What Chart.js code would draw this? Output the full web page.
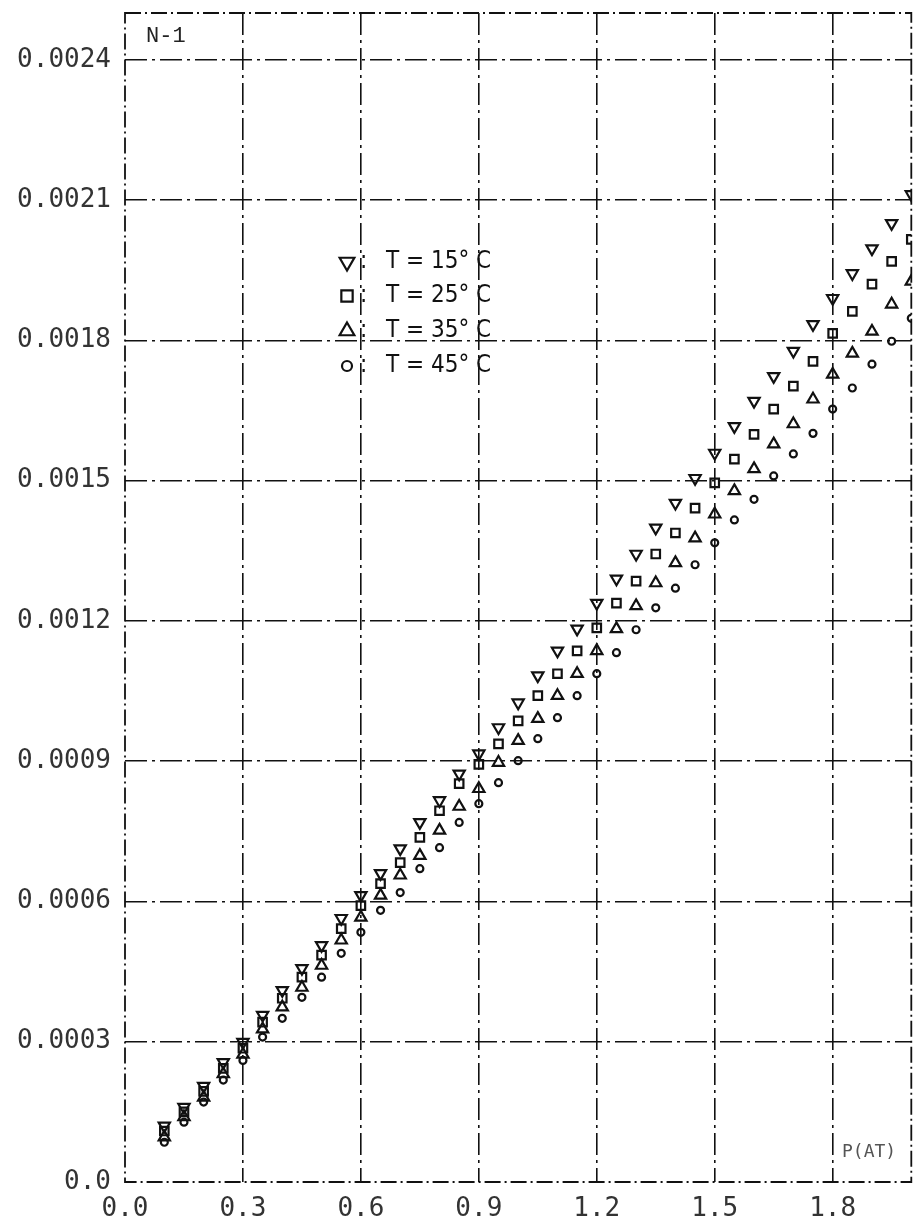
<!DOCTYPE html>
<html>
<head>
<meta charset="utf-8">
<title>N-1</title>
<script src="https://cdn.jsdelivr.net/npm/chart.js@4.4.1/dist/chart.umd.min.js"></script>
<style>
body{margin:0;background:#fff;}
#wrap{width:920px;height:1222px;position:relative;}
</style>
</head>
<body>
<div id="wrap"><canvas id="myChart"></canvas></div>
<script>
'use strict';
// pressure values on the x axis, same for every temperature
let pValues=[0.1,0.15,0.2,0.25,0.3,0.35,0.4,0.45,0.5,0.55,0.6,0.65,0.7,0.75,0.8,0.85,0.9,0.95,1.0,1.05,
1.1,1.15,1.2,1.25,1.3,1.35,1.4,1.45,1.5,1.55,1.6,1.65,1.7,1.75,1.8,1.85,1.9,1.95,2.0];

let t15=[0.000120,0.000160,0.000205,0.000256,0.000299,0.000357,0.000410,0.000457,0.000506,0.000564,
0.000613,0.000660,0.000713,0.000769,0.000816,0.000873,0.000916,0.000972,0.001025,0.001083,
0.001136,0.001183,0.001238,0.001290,0.001343,0.001399,0.001452,0.001505,0.001559,0.001616,
0.001670,0.001723,0.001777,0.001834,0.001890,0.001943,0.001996,0.002050,0.002112];

let t25=[0.000109,0.000150,0.000194,0.000243,0.000286,0.000342,0.000393,0.000438,0.000485,0.000542,
0.000591,0.000638,0.000683,0.000737,0.000794,0.000852,0.000893,0.000937,0.000986,0.001040,
0.001087,0.001136,0.001185,0.001238,0.001285,0.001343,0.001388,0.001441,0.001495,0.001546,
0.001599,0.001653,0.001702,0.001755,0.001815,0.001862,0.001920,0.001969,0.002016];

let t35=[0.000096,0.000139,0.000181,0.000231,0.000273,0.000327,0.000374,0.000416,0.000463,0.000517,
0.000566,0.000613,0.000656,0.000698,0.000752,0.000803,0.000841,0.000897,0.000944,0.000991,
0.001040,0.001087,0.001136,0.001183,0.001232,0.001281,0.001324,0.001377,0.001428,0.001478,
0.001525,0.001578,0.001621,0.001674,0.001727,0.001772,0.001819,0.001877,0.001926];

let t45=[0.000085,0.000128,0.000171,0.000218,0.000260,0.000310,0.000350,0.000395,0.000438,0.000489,
0.000534,0.000581,0.000619,0.000670,0.000715,0.000769,0.000809,0.000854,0.000901,0.000948,
0.000993,0.001040,0.001087,0.001132,0.001181,0.001228,0.001270,0.001320,0.001367,0.001416,
0.001460,0.001510,0.001557,0.001601,0.001653,0.001698,0.001749,0.001798,0.001847];

let seriesNames=['T = 15° C','T = 25° C','T = 35° C','T = 45° C'];
let xTicks=[0,0.3,0.6,0.9,1.2,1.5,1.8];
let xTickLabels=['0.0','0.3','0.6','0.9','1.2','1.5','1.8'];
let yTicks=[0,0.0003,0.0006,0.0009,0.0012,0.0015,0.0018,0.0021,0.0024];
let yTickLabels=['0.0','0.0003','0.0006','0.0009','0.0012','0.0015','0.0018','0.0021','0.0024'];

let markers=[
  {pointStyle:'triangle',rotation:180,radius:6.5,legendRadius:8.5},
  {pointStyle:'rect',rotation:0,radius:6,legendRadius:8},
  {pointStyle:'triangle',rotation:0,radius:6.5,legendRadius:8.5},
  {pointStyle:'circle',rotation:0,radius:3.5,legendRadius:5}
];
let allSeries=[t15,t25,t35,t45];

function makePoints(vals)
{
  let pts=[];
  for(let i=0;i<pValues.length;i++)
  {pts.push({x:pValues[i],y:vals[i]});}
  return pts;
}

let datasets=[];
for(let i=0;i<allSeries.length;i++)
{
  datasets.push({
    label:seriesNames[i],
    data:makePoints(allSeries[i]),
    pointStyle:markers[i].pointStyle,
    pointRotation:markers[i].rotation,
    pointRadius:markers[i].radius,
    pointBorderWidth:2.2,
    pointBorderColor:'#111',
    pointBackgroundColor:'rgba(0,0,0,0)',
    showLine:false
  });
}

let ink='#111';

function noPad(s)
{
  s.paddingTop=0;
  s.paddingBottom=0;
  s.paddingLeft=0;
  s.paddingRight=0;
}

let paperPlugin={
  id:'paper',
  beforeDatasetsDraw(chart)
  {
    let ctx=chart.ctx;
    let a=chart.chartArea;
    ctx.save();
    ctx.strokeStyle=ink;
    ctx.lineWidth=1.8;
    ctx.setLineDash([16,4,2,4]);
    ctx.strokeRect(a.left,a.top,a.right-a.left,a.bottom-a.top);
    ctx.restore();
  },
  afterDraw(chart)
  {
    let ctx=chart.ctx;
    ctx.save();
    // legend box inside the plot
    let rowY=[262,296,331,366];
    for(let i=0;i<seriesNames.length;i++)
    {
      ctx.strokeStyle=ink;
      ctx.fillStyle='rgba(0,0,0,0)';
      ctx.lineWidth=2.2;
      ctx.setLineDash([]);
      Chart.helpers.drawPoint(ctx,{pointStyle:markers[i].pointStyle,rotation:markers[i].rotation,radius:markers[i].legendRadius,borderWidth:2},347,rowY[i]);
      ctx.fillStyle=ink;
      ctx.font='24px "DejaVu Sans Condensed", "DejaVu Sans", sans-serif';
      ctx.textBaseline='middle';
      ctx.textAlign='left';
      ctx.fillText(':',360,rowY[i]);
      ctx.fillText(seriesNames[i],386,rowY[i]);
    }
    ctx.font='22px "Liberation Mono", monospace';
    ctx.fillStyle='#222';
    ctx.fillText('N-1',146,36);
    ctx.font='18px "DejaVu Sans Mono", monospace';
    ctx.fillStyle='#555';
    ctx.fillText('P(AT)',842,1152);
    ctx.restore();
  }
};

let ctx=document.getElementById('myChart').getContext('2d');
let myChart=new Chart(ctx,{
  type:'scatter',
  data:{datasets:datasets},
  options:{
    responsive:true,
    maintainAspectRatio:false,
    animation:false,
    layout:{padding:{top:13,right:5,left:0,bottom:0}},
    plugins:{legend:{display:false},tooltip:{enabled:false}},
    scales:{
      x:{
        type:'linear',
        min:0,
        max:2.0,
        afterFit:function(s){s.height=40;noPad(s);},
        afterBuildTicks:function(s){s.ticks=xTicks.map(v=>({value:v}));},
        ticks:{
          autoSkip:false,
          includeBounds:false,
          padding:12,
          color:'#333',
          font:{family:'"DejaVu Sans Mono", monospace',size:26},
          callback:function(v,i){return xTickLabels[i];}
        },
        grid:{
          drawTicks:false,
          lineWidth:1.6,
          color:function(c){return c.tick && c.tick.value===0 ? 'rgba(0,0,0,0)' : ink;}
        },
        border:{display:false,dash:[22,5,3,5]}
      },
      y:{
        type:'linear',
        min:0,
        max:0.0025,
        afterFit:function(s){s.width=125;noPad(s);},
        afterBuildTicks:function(s){s.ticks=yTicks.map(v=>({value:v}));},
        ticks:{
          autoSkip:false,
          includeBounds:false,
          padding:14,
          color:'#333',
          font:{family:'"DejaVu Sans Mono", monospace',size:26},
          callback:function(v,i){return yTickLabels[i];}
        },
        grid:{
          drawTicks:false,
          lineWidth:1.6,
          color:function(c){return c.tick && c.tick.value===0 ? 'rgba(0,0,0,0)' : ink;}
        },
        border:{display:false,dash:[22,5,3,5]}
      }
    }
  },
  plugins:[paperPlugin]
});
</script>
</body>
</html>
